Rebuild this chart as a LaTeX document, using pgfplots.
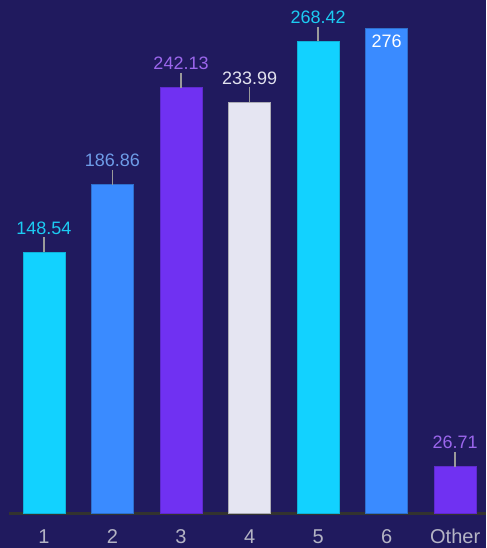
\documentclass[border=0pt]{standalone}
\usepackage{pgfplots}
\pgfplotsset{compat=1.18}
\usepackage{fontspec}
\setmainfont{Liberation Sans}
\usetikzlibrary{backgrounds}
\definecolor{bg}{HTML}{201A5E}
\definecolor{cyanb}{HTML}{12D2FF}
\definecolor{blueb}{HTML}{3A8BFF}
\definecolor{purpb}{HTML}{7031F2}
\definecolor{lightb}{HTML}{E5E5F2}
\definecolor{cyant}{HTML}{1CCBF2}
\definecolor{bluet}{HTML}{6E9CE8}
\definecolor{purpt}{HTML}{9B66EC}
\definecolor{lightt}{HTML}{E2E2EE}
\definecolor{ticklab}{HTML}{B4B4C4}
\definecolor{leader}{HTML}{9A9A9A}
\definecolor{axisc}{HTML}{333330}
\pgfplotsset{
  leaderbar/.style={
    error bars/y dir=plus,
    error bars/y fixed=8.5,
    error bars/error mark=none,
    error bars/error bar style={draw=leader, line width=1.5pt},
  }
}
\begin{document}
\begin{tikzpicture}[x=1pt,y=1pt]
\begin{axis}[
  scale only axis,
  width=477pt, height=513.5pt,
  xmin=-0.51, xmax=6.45,
  ymin=0, ymax=292,
  axis x line*=bottom,
  axis y line=none,
  x axis line style={-, draw=axisc, line width=2.5pt},
  xtick={0,1,2,3,4,5,6},
  xticklabels={1,2,3,4,5,6,Other},
  major tick length=0pt,
  xticklabel style={anchor=base, yshift=-29.5pt, text=ticklab, font=\fontsize{20}{24}\selectfont},
  ytick=\empty,
  ybar, bar width=42pt, bar shift=0pt,
  clip=false,
  /pgf/number format/assume math mode=true,
  nodes near coords,
  every node near coord/.append style={anchor=base, font=\fontsize{18}{22}\selectfont, inner sep=0pt},
]
\addplot[fill=cyanb, draw=cyanb!85!black, line width=0.8pt, leaderbar,
  every node near coord/.append style={text=cyant, yshift=18pt}] coordinates {(0,148.54)};
\addplot[fill=blueb, draw=blueb!80!black, line width=0.8pt, leaderbar,
  every node near coord/.append style={text=bluet, yshift=18pt}] coordinates {(1,186.86)};
\addplot[fill=purpb, draw=purpb!85!black, line width=0.8pt, leaderbar,
  every node near coord/.append style={text=purpt, yshift=18pt}] coordinates {(2,242.13)};
\addplot[fill=lightb, draw=lightb!75!black, line width=0.8pt, leaderbar,
  every node near coord/.append style={text=lightt, yshift=18pt}] coordinates {(3,233.99)};
\addplot[fill=cyanb, draw=cyanb!85!black, line width=0.8pt, leaderbar,
  every node near coord/.append style={text=cyant, yshift=18pt}] coordinates {(4,268.42)};
\addplot[fill=blueb, draw=blueb!80!black, line width=0.8pt,
  every node near coord/.append style={text=white, yshift=-19pt}] coordinates {(5,276)};
\addplot[fill=purpb, draw=purpb!85!black, line width=0.8pt, leaderbar,
  every node near coord/.append style={text=purpt, yshift=18pt}] coordinates {(6,26.71)};
\end{axis}
\pgfresetboundingbox
\path[use as bounding box] ([xshift=-9pt,yshift=-34.5pt]current axis.south west) rectangle (current axis.north east);
\begin{scope}[on background layer]
\fill[bg] ([xshift=-9pt,yshift=-34.5pt]current axis.south west) rectangle (current axis.north east);
\end{scope}
\end{tikzpicture}
\end{document}
